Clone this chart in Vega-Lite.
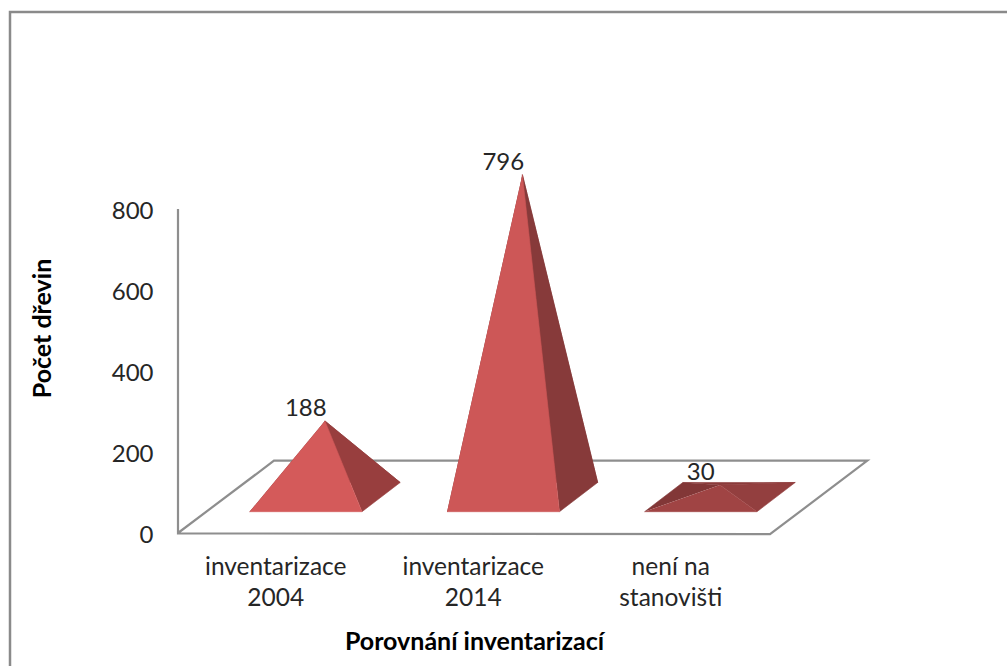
{
  "$schema": "https://vega.github.io/schema/vega-lite/v6.json",
  "width": 1003,
  "height": 660,
  "autosize": {"type": "none"},
  "padding": {"left": 10, "top": 12, "right": -6, "bottom": -6},
  "background": "white",
  "config": {
    "view": {"stroke": "#8a8a8a", "strokeWidth": 2.5},
    "text": {"font": "Lato"}
  },
  "datasets": {
    "dreviny": [
      {"kategorie": "inventarizace 2004", "poradi": 1, "pocet": 188},
      {"kategorie": "inventarizace 2014", "poradi": 2, "pocet": 796},
      {"kategorie": "není na stanovišti", "poradi": 3, "pocet": 30}
    ],
    "podlaha": [
      {"x": 0, "y": 0},
      {"x": 0.486, "y": 178.5},
      {"x": 3.49, "y": 178.5},
      {"x": 2.9975, "y": -3},
      {"x": 0, "y": -1},
      {"x": 0, "y": 800}
    ]
  },
  "encoding": {
    "x": {
      "field": "x",
      "type": "quantitative",
      "scale": {"domain": [-0.8506, 4.2278], "nice": false, "zero": false},
      "axis": {
        "orient": "bottom",
        "offset": -138,
        "values": [0.5, 1.5, 2.5],
        "domain": false,
        "ticks": false,
        "grid": false,
        "labelFont": "Lato",
        "labelFontSize": 24.5,
        "labelColor": "#262626",
        "labelPadding": 21,
        "labelOffset": -1.5,
        "labelLineHeight": 31,
        "labelAngle": 0,
        "labelExpr": "[['inventarizace','2004'],['inventarizace','2014'],['není na','stanovišti']][floor(datum.value)]",
        "title": "Porovnání inventarizací",
        "titleFont": "Lato",
        "titleFontSize": 25,
        "titleFontWeight": "bold",
        "titleColor": "#000000",
        "titleX": 464,
        "titleY": 107,
        "titleBaseline": "middle"
      }
    },
    "y": {
      "field": "y",
      "type": "quantitative",
      "scale": {"domain": [-343.2, 1286.4], "nice": false, "zero": false},
      "axis": {
        "orient": "left",
        "offset": -168,
        "values": [0, 200, 400, 600, 800],
        "domain": false,
        "ticks": false,
        "grid": false,
        "labelFont": "Lato",
        "labelFontSize": 24,
        "labelColor": "#262626",
        "labelPadding": 25,
        "labelOffset": 2.5,
        "title": "Počet dřevin",
        "titleFont": "Lato",
        "titleFontSize": 25,
        "titleFontWeight": "bold",
        "titleColor": "#000000",
        "titleX": -136,
        "titleY": 316,
        "titleBaseline": "middle"
      }
    }
  },
  "layer": [
    {
      "data": {"name": "podlaha"},
      "mark": {"type": "line", "stroke": "#8e8e8e", "strokeWidth": 2.2, "strokeJoin": "miter"},
      "encoding": {"order": {"field": "rowIndex"}},
      "transform": [{"window": [{"op": "row_number", "as": "rowIndex"}]}]
    },
    {
      "data": {"name": "dreviny"},
      "transform": [
        {"calculate": "datum.poradi - 0.353", "as": "stred"},
        {"calculate": "['leva','zadni','prava','predni']", "as": "plocha"},
        {"flatten": ["plocha"]},
        {"calculate": "[0,1,2]", "as": "vrchol"},
        {"flatten": ["vrchol"]},
        {"calculate": "{leva:['FL','BL','A'],zadni:['BL','BR','A'],prava:['FR','BR','A'],predni:['FL','FR','A']}[datum.plocha][datum.vrchol]", "as": "roh"},
        {"calculate": "datum.stred + {FL:-0.2845,FR:0.2845,BR:0.4779,BL:-0.0911,A:0.0967}[datum.roh]", "as": "x"},
        {"calculate": "datum.roh == 'A' ? datum.pocet + 88.8 : (datum.roh == 'FL' || datum.roh == 'FR' ? 52.6 : 124.7)", "as": "y"},
        {"calculate": "datum.poradi + '-' + datum.plocha", "as": "stena"}
      ],
      "mark": {"type": "line", "strokeWidth": 0.6, "interpolate": "linear"},
      "encoding": {
        "order": {"field": "vrchol"},
        "detail": {"field": "stena"},
        "fill": {
          "field": "stena",
          "type": "nominal",
          "legend": null,
          "scale": {
            "domain": ["1-leva","1-zadni","1-prava","1-predni","2-leva","2-zadni","2-prava","2-predni","3-leva","3-zadni","3-prava","3-predni"],
            "range": ["#843838","#843838","#983e3e","#d45a5a","#843838","#843838","#873a3a","#cd5757","#823737","#8a3b3b","#933f3f","#a04444"]
          }
        },
        "stroke": {"field": "stena", "type": "nominal", "legend": null,
          "scale": {
            "domain": ["1-leva","1-zadni","1-prava","1-predni","2-leva","2-zadni","2-prava","2-predni","3-leva","3-zadni","3-prava","3-predni"],
            "range": ["#843838","#843838","#983e3e","#d45a5a","#843838","#843838","#873a3a","#cd5757","#823737","#8a3b3b","#933f3f","#a04444"]
          }
        }
      }
    },
    {
      "data": {"name": "dreviny"},
      "transform": [
        {"calculate": "datum.poradi - 0.353", "as": "x"},
        {"calculate": "datum.pocet + 88.8", "as": "y"}
      ],
      "mark": {"type": "text", "font": "Lato", "fontSize": 24, "color": "#262626", "baseline": "middle", "dy": -12},
      "encoding": {"text": {"field": "pocet", "type": "quantitative"}}
    }
  ]
}
